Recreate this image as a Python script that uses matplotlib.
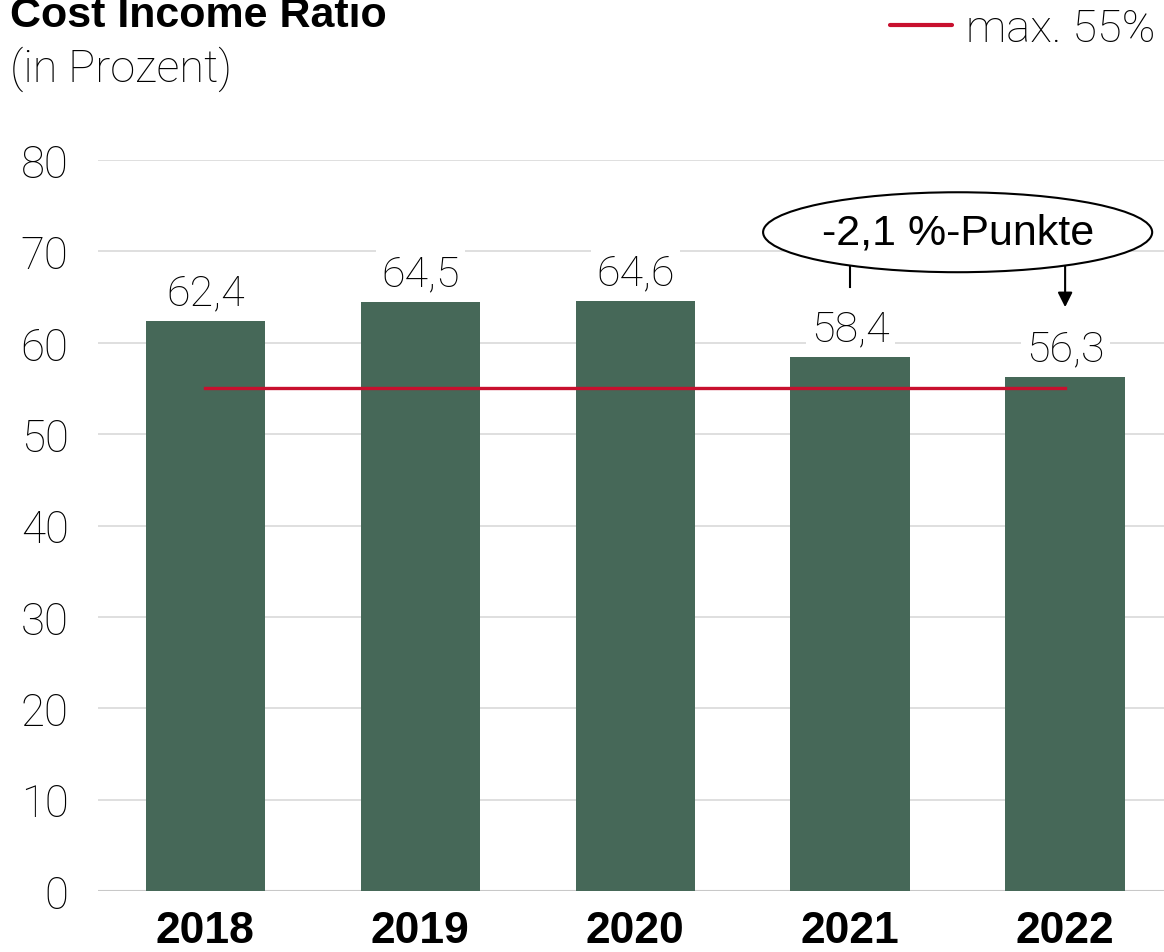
import matplotlib
matplotlib.use("Agg")
import matplotlib.pyplot as plt
from matplotlib.patches import Ellipse

years = ["2018", "2019", "2020", "2021", "2022"]
ratio = [62.4, 64.5, 64.6, 58.4, 56.3]
ratio_labels = ["62,4", "64,5", "64,6", "58,4", "56,3"]
target = 55
target_label = "max. 55%"
change_label = "-2,1 %-Punkte"

bar_color = "#466858"
red = "#C8102E"
light = dict(family="Roboto", weight="light")

fig = plt.figure(figsize=(11.64, 9.53), dpi=100)
ax = fig.add_axes([0.084, 0.064, 0.916, 0.767])

x = list(range(len(years)))
ax.bar(x, ratio, width=0.555, color=bar_color, zorder=2)
ax.plot([x[0], x[-1]], [target, target], color=red, lw=2.4, zorder=3)

for xi, v, lab in zip(x, ratio, ratio_labels):
    ax.annotate(lab, (xi, v), xytext=(0, 12), textcoords="offset points",
                ha="center", va="baseline", fontsize=31, zorder=4,
                bbox=dict(boxstyle="square,pad=0.12", fc="white", ec="none"),
                **light)

ax.set_xlim(-0.5, 4.46)
ax.set_ylim(0, 80)
ax.set_yticks(range(0, 81, 10))
ax.set_xticks(x)
ax.set_xticklabels(years, fontsize=32, fontweight="bold", family="Liberation Sans")
for t in ax.get_yticklabels():
    t.set_fontsize(31.5)
    t.set_family("Roboto")
    t.set_fontweight("light")
ax.tick_params(axis="both", length=0)
ax.tick_params(axis="y", pad=21)
ax.tick_params(axis="x", pad=14)
ax.grid(axis="y", color="#d9d9d9", lw=1.2, zorder=0)
ax.set_axisbelow(True)
for s in ax.spines.values():
    s.set_visible(False)
ax.axhline(0, color="#c8c8c8", lw=1.5, zorder=1)

# change annotation between 2021 and 2022
ax.add_patch(Ellipse((3.5, 72.1), 1.81, 8.75, fc="white", ec="black", lw=1.5,
                     zorder=5, clip_on=False))
ax.text(3.5, 72.1, change_label, ha="center", va="center", fontsize=31,
        family="Liberation Sans", zorder=6)
ax.plot([3, 3], [66.1, 68.4], color="black", lw=1.5, zorder=4)
ax.annotate("", xy=(4, 63.9), xytext=(4, 68.4),
            arrowprops=dict(arrowstyle="-|>", color="black", lw=1.5,
                            mutation_scale=22, shrinkA=0, shrinkB=0), zorder=4)

# titles
fig.text(0.009, 0.972, "Cost Income Ratio", fontsize=31, fontweight="bold",
         family="Liberation Sans", va="baseline")
fig.text(0.009, 0.914, "(in Prozent)", fontsize=32.5, va="baseline", **light)

# legend
fig.add_artist(plt.Line2D([890 / 1164, 952 / 1164], [0.973, 0.973], color=red,
                          lw=3, solid_capstyle="round"))
fig.text(966 / 1164, 0.956, target_label, fontsize=32.5, va="baseline", **light)

fig.savefig("out.png", dpi=100)
